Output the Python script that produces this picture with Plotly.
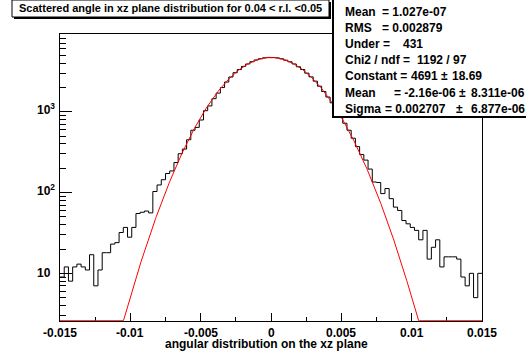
import numpy as np
import plotly.graph_objects as go

# ---------------- data ----------------
bin_low = -0.015
bin_width = 0.0003
counts = [9, 12, 8, 12, 13, 12, 11, 17, 7, 11,
          18, 18, 23, 24, 32, 37, 28, 37, 55, 57,
          59, 56, 103, 124, 144, 172, 185, 235, 302, 345,
          450, 590, 640, 790, 1030, 1180, 1450, 1700, 1990, 2330,
          2690, 3040, 3330, 3640, 3900, 4160, 4370, 4530, 4650, 4700,
          4690, 4640, 4520, 4340, 4150, 3900, 3600, 3330, 3000, 2700,
          2390, 2070, 1780, 1520, 1290, 1080, 880, 720, 590, 470,
          370, 295, 252, 195, 135, 133, 97, 112, 84, 66,
          60, 45, 41, 37, 34, 26, 34, 15, 21, 26,
          12, 16, 16, 16, 15, 9, 7, 10, 5, 10]

fit_constant = 4691.0
fit_mean = -2.16e-06
fit_sigma = 0.002707

x_tickvals = [-0.015, -0.01, -0.005, 0.0, 0.005, 0.01, 0.015]
x_ticktext = ["-0.015", "-0.01", "-0.005", "0", "0.005", "0.01", "0.015"]
x_minor = [-0.0125, -0.0075, -0.0025, 0.0025, 0.0075, 0.0125]
y_tickvals = [10, 100, 1000]
y_ticktext = ["10", "10<sup>2</sup>", "10<sup>3</sup>"]
y_minor = [m * 10 ** d for d in range(0, 4) for m in range(2, 10)]

title_text = "Scattered angle in xz plane distribution for 0.04 < r.l. <0.05"
xaxis_title = "angular distribution on the xz plane"

# stats box lines: list of (text piece, x in px, anchor)
stats_lines = [
    [("Mean", 343, "left"), ("= 1.027e-07", 380, "left")],
    [("RMS", 343, "left"), ("= 0.002879", 380, "left")],
    [("Under =", 343, "left"), ("431", 401, "left")],
    [("Chi2 / ndf =", 343, "left"), ("1192 / 97", 415, "left")],
    [("Constant =", 343, "left"), ("4691", 409, "left"), ("\u00b1", 438.5, "left"), ("18.69", 450, "left")],
    [("Mean", 343, "left"), ("= -2.16e-06", 391.5, "left"), ("\u00b1", 457, "left"), ("8.311e-06", 527, "right")],
    [("Sigma", 343, "left"), ("= 0.002707", 383, "left"), ("\u00b1", 454, "left"), ("6.877e-06", 527, "right")],
]

# ---------------- geometry ----------------
W, H = 526, 360
L, R, T, B = 60, 44, 34, 39
PW, PH = W - L - R, H - T - B
YMIN_LOG, YMAX_LOG = 0.41, 3.962


def px(x):
    return (x - L) / PW


def py(y):
    return (H - B - y) / PH


FONT = "Liberation Sans, Arial, sans-serif"

nb = len(counts)
edges = bin_low + bin_width * np.arange(nb + 1)
hist_y = list(counts) + [counts[-1]]

xf = np.linspace(edges[0], edges[-1], 601)
yf = fit_constant * np.exp(-0.5 * ((xf - fit_mean) / fit_sigma) ** 2)
yf = np.maximum(yf, 10 ** (YMIN_LOG + 0.003))

fig = go.Figure()
fig.add_trace(go.Scatter(x=edges, y=hist_y, mode="lines", line=dict(color="black", width=1, shape="hv"),
                         showlegend=False, hoverinfo="skip"))
fig.add_trace(go.Scatter(x=xf, y=yf, mode="lines", line=dict(color="#ff0000", width=1),
                         showlegend=False, hoverinfo="skip"))

tickfont = dict(family=FONT, size=12, color="black", weight="bold")

fig.update_layout(
    width=W, height=H,
    margin=dict(l=L, r=R, t=T, b=B, pad=0),
    paper_bgcolor="white", plot_bgcolor="white",
    showlegend=False,
    xaxis=dict(range=[edges[0], edges[-1]], showgrid=False, zeroline=False,
               showline=True, linecolor="black", linewidth=1, mirror=True,
               ticks="inside", ticklen=8, tickwidth=1, tickcolor="black",
               tickmode="array", tickvals=x_tickvals, ticktext=x_ticktext,
               showticklabels=False,
               minor=dict(tickmode="array", tickvals=x_minor, ticks="inside", ticklen=4,
                          tickcolor="black", tickwidth=1, showgrid=False),
               layer="below traces"),
    yaxis=dict(type="log", range=[YMIN_LOG, YMAX_LOG], showgrid=False, zeroline=False,
               showline=True, linecolor="black", linewidth=1, mirror=True,
               ticks="inside", ticklen=12, tickwidth=1, tickcolor="black",
               tickmode="array", tickvals=y_tickvals, ticktext=y_ticktext,
               showticklabels=False,
               minor=dict(tickmode="array", tickvals=y_minor, ticks="inside", ticklen=6,
                          tickcolor="black", tickwidth=1, showgrid=False),
               layer="below traces"),
)

shapes = []
# title box with shadow
shapes.append(dict(type="rect", xref="paper", yref="paper", x0=px(14), x1=px(331), y0=py(2), y1=py(19),
                   fillcolor="black", line=dict(width=0), layer="above"))
shapes.append(dict(type="rect", xref="paper", yref="paper", x0=px(12), x1=px(329), y0=py(0), y1=py(17),
                   fillcolor="white", line=dict(color="black", width=1), layer="above"))
# stats box
shapes.append(dict(type="rect", xref="paper", yref="paper", x0=px(333), x1=px(540), y0=py(-2), y1=py(117),
                   fillcolor="white", line=dict(color="black", width=2), layer="above"))
fig.update_layout(shapes=shapes)

ann = []
ann.append(dict(text=title_text, xref="paper", yref="paper", x=px(170.5), y=py(8.5),
                xanchor="center", yanchor="middle", showarrow=False,
                font=dict(family=FONT, size=11, color="black", weight="bold")))
ann.append(dict(text=xaxis_title, xref="paper", yref="paper", x=px(266.7), y=py(344.5),
                xanchor="center", yanchor="middle", showarrow=False, borderpad=0,
                font=dict(family=FONT, size=12, color="black", weight="bold")))
# x tick labels
for v, t in zip(x_tickvals, x_ticktext):
    ann.append(dict(text=t, xref="x", yref="paper", x=v, y=py(332.5),
                    xanchor="center", yanchor="middle", showarrow=False, borderpad=0,
                    font=tickfont))
# y tick labels (left-aligned like ROOT)
for v, t in zip(y_tickvals, y_ticktext):
    ann.append(dict(text=t, xref="paper", yref="y", x=px(35), y=np.log10(v),
                    xanchor="left", yanchor="middle", showarrow=False,
                    yshift=3 if "sup" in t else 0, font=tickfont))
sfont = dict(family=FONT, size=12, color="black", weight="bold")
for i, pieces in enumerate(stats_lines):
    yy = 11.5 + 16.2 * i
    for txt, xx, anc in pieces:
        ann.append(dict(text=txt, xref="paper", yref="paper", x=px(xx), y=py(yy),
                        xanchor=anc, yanchor="middle", showarrow=False, font=sfont))
fig.update_layout(annotations=ann)

fig.write_html("out.html")
